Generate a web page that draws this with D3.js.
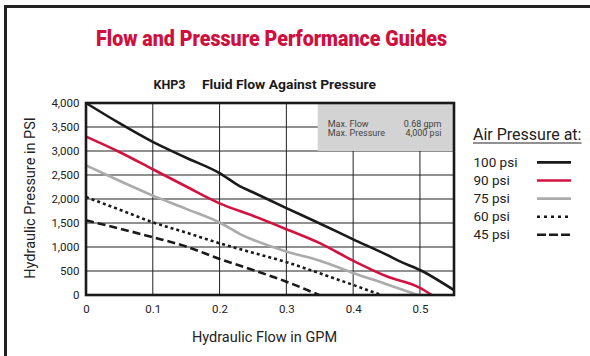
<!DOCTYPE html>
<html>
<head>
<meta charset="utf-8">
<script src="https://cdn.jsdelivr.net/npm/d3@7"></script>
<style>
  html, body { margin: 0; padding: 0; background: #fff; }
  svg { display: block; font-family: Roboto, "Open Sans", sans-serif; }
</style>
</head>
<body>
<svg id="chart" width="590" height="356"></svg>
<script>
// Hydraulic flow (GPM) against hydraulic pressure (PSI), one curve per air pressure
const seriesNames = ["100 psi", "90 psi", "75 psi", "60 psi", "45 psi"];

const flow100 = [0, 0.05, 0.1, 0.15, 0.2, 0.23, 0.25, 0.3, 0.35, 0.4, 0.45, 0.47, 0.5, 0.551];
const psi100  = [4000, 3580, 3190, 2860, 2540, 2270, 2140, 1810, 1490, 1160, 840, 700, 520, 100];

const flow90 = [0, 0.05, 0.1, 0.15, 0.2, 0.25, 0.3, 0.35, 0.4, 0.45, 0.5, 0.518];
const psi90  = [3300, 2980, 2620, 2260, 1910, 1650, 1370, 1080, 715, 390, 150, 0];

const flow75 = [0, 0.05, 0.1, 0.15, 0.2, 0.23, 0.3, 0.35, 0.4, 0.45, 0.497];
const psi75  = [2700, 2380, 2070, 1795, 1510, 1275, 905, 715, 460, 225, 0];

const flow60 = [0, 0.05, 0.1, 0.15, 0.2, 0.25, 0.3, 0.35, 0.4, 0.442];
const psi60  = [2040, 1780, 1515, 1300, 1078, 880, 685, 452, 210, 0];

const flow45 = [0, 0.05, 0.1, 0.15, 0.2, 0.25, 0.3, 0.349];
const psi45  = [1555, 1385, 1204, 1010, 752, 520, 278, 0];

const xTicks = [0, 0.1, 0.2, 0.3, 0.4, 0.5];
const yTicks = [0, 500, 1000, 1500, 2000, 2500, 3000, 3500, 4000];

const infoLabels = ["Max. Flow", "Max. Pressure"];
const infoValues = ["0.68 gpm", "4,000 psi"];

const series = [
  { name: seriesNames[0], flow: flow100, psi: psi100, color: "#1a1a1a", dash: null,  legendDash: null },
  { name: seriesNames[1], flow: flow90,  psi: psi90,  color: "#d2123f", dash: null,  legendDash: null },
  { name: seriesNames[2], flow: flow75,  psi: psi75,  color: "#ababab", dash: null,  legendDash: null },
  { name: seriesNames[3], flow: flow60,  psi: psi60,  color: "#1a1a1a", dash: "3,3", legendDash: "3,4" },
  { name: seriesNames[4], flow: flow45,  psi: psi45,  color: "#1a1a1a", dash: "8,4", legendDash: "9,3" }
];

const svg = d3.select("#chart");
const W = 590, H = 356;

// Page frame
svg.append("line").attr("x1", 4).attr("x2", W).attr("y1", 6.5).attr("y2", 6.5)
  .attr("stroke", "#222").attr("stroke-width", 3);
svg.append("line").attr("x1", 5.5).attr("x2", 5.5).attr("y1", 5).attr("y2", H)
  .attr("stroke", "#222").attr("stroke-width", 3);

// Headings
svg.append("text").attr("x", 96).attr("y", 46)
  .attr("font-size", 22).attr("font-weight", 900).attr("fill", "#cf0f3d")
  .attr("textLength", 351).attr("lengthAdjust", "spacingAndGlyphs")
  .text("Flow and Pressure Performance Guides");
svg.append("text").attr("x", 153.5).attr("y", 89)
  .attr("font-size", 12.5).attr("font-weight", 700).attr("fill", "#1a1a1a")
  .text("KHP3");
svg.append("text").attr("x", 202).attr("y", 89)
  .attr("font-size", 12.5).attr("font-weight", 700).attr("fill", "#1a1a1a")
  .attr("textLength", 174).attr("lengthAdjust", "spacingAndGlyphs")
  .text("Fluid Flow Against Pressure");

// Plot area
const pLeft = 86, pRight = 454, pTop = 103, pBottom = 295;
const x = d3.scaleLinear().domain([0, 0.551]).range([pLeft, pRight]);
const y = d3.scaleLinear().domain([0, 4000]).range([pBottom, pTop]);

// Grid
const grid = svg.append("g").attr("stroke", "#222").attr("stroke-width", 1);
grid.selectAll("line.v").data(xTicks.filter(d => d > 0)).join("line")
  .attr("class", "v")
  .attr("x1", d => x(d)).attr("x2", d => x(d))
  .attr("y1", pTop).attr("y2", pBottom);
grid.selectAll("line.h").data(yTicks.filter(d => d > 0 && d < 4000)).join("line")
  .attr("class", "h")
  .attr("x1", pLeft).attr("x2", pRight)
  .attr("y1", d => y(d)).attr("y2", d => y(d));

// Spec box in upper-right corner of the plot
const boxX0 = 0.347, boxY0 = 3000;
svg.append("rect")
  .attr("x", x(boxX0)).attr("y", pTop)
  .attr("width", pRight - x(boxX0)).attr("height", y(boxY0) - pTop)
  .attr("fill", "#d3d3d3");
infoLabels.forEach((t, i) => {
  svg.append("text").attr("x", x(boxX0) + 10).attr("y", 126.5 + i * 9.5)
    .attr("font-size", 9).attr("fill", "#444").text(t);
  svg.append("text").attr("x", pRight - 12.5).attr("y", 126.5 + i * 9.5)
    .attr("text-anchor", "end")
    .attr("font-size", 9).attr("fill", "#444").text(infoValues[i]);
});

// Curves
const line = d3.line().x(d => x(d[0])).y(d => y(d[1])).curve(d3.curveMonotoneX);
series.forEach(s => {
  const pts = s.flow.map((f, i) => [f, s.psi[i]]);
  svg.append("path").datum(pts)
    .attr("d", line)
    .attr("fill", "none")
    .attr("stroke", s.color)
    .attr("stroke-width", 2.6)
    .attr("stroke-dasharray", s.dash);
});

// Plot frame
svg.append("rect").attr("x", pLeft).attr("y", pTop)
  .attr("width", pRight - pLeft).attr("height", pBottom - pTop)
  .attr("fill", "none").attr("stroke", "#1a1a1a").attr("stroke-width", 2.6);

// Axes
const xAxis = svg.append("g").attr("transform", `translate(0,${pBottom})`)
  .call(d3.axisBottom(x).tickValues(xTicks).tickSize(0).tickPadding(9.5)
    .tickFormat(d => d === 0 ? "0" : d3.format(".1f")(d)));
const yAxis = svg.append("g").attr("transform", `translate(${pLeft},0)`)
  .call(d3.axisLeft(y).tickValues(yTicks).tickSize(0).tickPadding(6.5)
    .tickFormat(d3.format(",")));
[xAxis, yAxis].forEach(a => {
  a.select(".domain").remove();
  a.selectAll("text").attr("font-size", 11.5).attr("fill", "#222")
    .attr("font-family", "Roboto, sans-serif");
});

// Axis titles
svg.append("text").attr("x", 264.5).attr("y", 342)
  .attr("text-anchor", "middle").attr("font-size", 14.5).attr("fill", "#222")
  .text("Hydraulic Flow in GPM");
svg.append("text")
  .attr("transform", "translate(35,198) rotate(-90)")
  .attr("text-anchor", "middle").attr("font-size", 14.5).attr("fill", "#222")
  .text("Hydraulic Pressure in PSI");

// Legend
const lg = svg.append("g");
const head = lg.append("text").attr("x", 473).attr("y", 140)
  .attr("font-size", 16).attr("fill", "#222").text("Air Pressure at:");
const hb = head.node().getBBox();
lg.append("line").attr("x1", 473).attr("x2", 473 + hb.width)
  .attr("y1", 143).attr("y2", 143).attr("stroke", "#222").attr("stroke-width", 1);
series.forEach((s, i) => {
  const yy = 166.7 + i * 18.1;
  lg.append("text").attr("x", 473.5).attr("y", yy)
    .attr("font-size", 13.5).attr("fill", "#222").text(s.name);
  lg.append("line").attr("x1", 537).attr("x2", 571)
    .attr("y1", yy - 4.3).attr("y2", yy - 4.3)
    .attr("stroke", s.color).attr("stroke-width", 2.6)
    .attr("stroke-dasharray", s.legendDash);
});
</script>
</body>
</html>
